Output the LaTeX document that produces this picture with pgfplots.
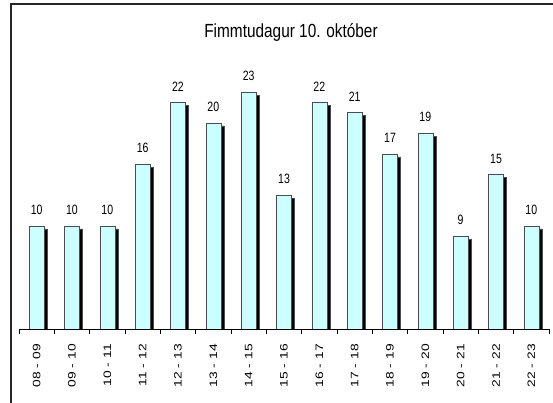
\documentclass[border=0pt]{standalone}
\usepackage{fontspec}
\setmainfont{Liberation Sans}
\newfontfamily\titlefont[FakeStretch=0.81]{Liberation Sans}
\newfontfamily\labfont[FakeStretch=0.78]{Liberation Sans}
\newfontfamily\tickfont[FakeStretch=1.28]{Liberation Sans}
\usepackage{pgfplots}
\pgfplotsset{compat=1.18}
\definecolor{barfill}{HTML}{CCFFFF}
\pgfplotstableread{
x y
0.5 10
1.5 10
2.5 10
3.5 16
4.5 22
5.5 20
6.5 23
7.5 13
8.5 22
9.5 21
10.5 17
11.5 19
12.5 9
13.5 15
14.5 10
}\datatable
\begin{document}
\begin{tikzpicture}
\useasboundingbox (0,0) rectangle (553bp,403bp);
\fill[white] (0,0) rectangle (553bp,403bp);
\begin{axis}[
  at={(19bp,74bp)}, anchor=south west,
  scale only axis, width=530bp, height=257.5bp,
  xmin=0, xmax=15, ymin=0, ymax=25,
  /pgf/number format/assume math mode=true,
  axis x line*=bottom, axis y line=none,
  axis line style={black, line width=0.8bp},
  xtick={0.5,1.5,...,14.5},
  xticklabels={08 - 09,09 - 10,10 - 11,11 - 12,12 - 13,13 - 14,14 - 15,15 - 16,16 - 17,17 - 18,18 - 19,19 - 20,20 - 21,21 - 22,22 - 23},
  major tick length=0pt,
  extra x ticks={0,1,...,15},
  extra x tick labels={},
  extra x tick style={major tick length=5bp, tick align=outside, tick style={black, line width=0.8bp}},
  xticklabel style={rotate=90, anchor=east, inner xsep=15bp, inner ysep=0pt, font=\tickfont\fontsize{10.8bp}{13bp}\selectfont},
  ytick=\empty,
  ybar, bar width=15bp,
  nodes near coords,
  nodes near coords style={anchor=south, inner sep=0pt, yshift=11bp, font=\labfont\fontsize{13.5bp}{15bp}\selectfont},
]
\addplot[fill=barfill, draw=black!70, line width=0.6bp,
  preaction={fill=black, transform canvas={shift={(3bp,-3bp)}}}] table[x=x,y=y] {\datatable};
\end{axis}
\node[font=\titlefont\fontsize{19bp}{22bp}\selectfont] at (291bp,370.5bp) {Fimmtudagur 10. október};
\draw[line width=1.5bp, black!85] (11bp,-2bp) -- (11bp,399bp) -- (556bp,399bp);
\end{tikzpicture}
\end{document}
